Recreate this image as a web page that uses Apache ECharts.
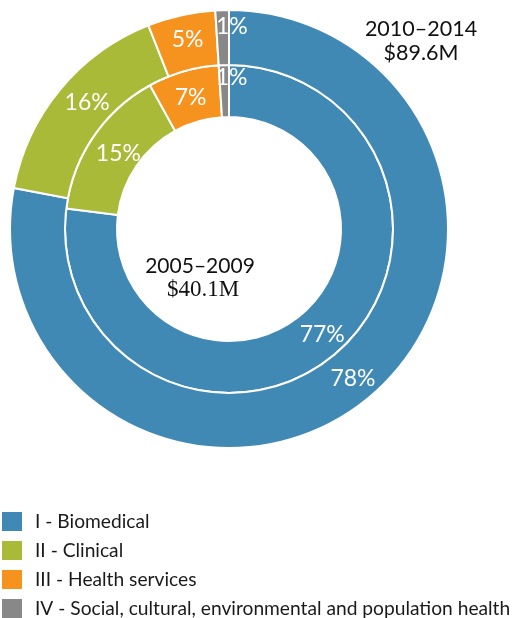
<!DOCTYPE html>
<html>
<head>
<meta charset="utf-8">
<script src="https://cdn.jsdelivr.net/npm/echarts@6/dist/echarts.min.js"></script>
<style>
  html, body { margin: 0; padding: 0; background: #fff; }
  #chart { width: 512px; height: 618px; }
</style>
</head>
<body>
<div id="chart"></div>
<script>
const categories = ['I - Biomedical', 'II - Clinical', 'III - Health services', 'IV - Social, cultural, environmental and population health'];
const colors = ['#4189b5', '#a9ba38', '#f6921e', '#888888'];
const inner2005 = [77, 15, 7, 1];
const outer2010 = [78, 16, 5, 1];
const periodInner = ['2005–2009', '$40.1M'];
const periodOuter = ['2010–2014', '$89.6M'];

const chart = echarts.init(document.getElementById('chart'), null, { renderer: 'canvas' });

// small label nudges (style only)
const innerOffsets = [[0, 0], [6, 4], [1, 4], [7, -10]];
const outerOffsets = [[0, 0], [8, -2], [1, 0], [9, -8]];

function mk(vals, offs) {
  return vals.map((v, i) => ({
    name: categories[i], value: v,
    itemStyle: { color: colors[i] },
    label: { offset: offs[i] }
  }));
}

const labelCfg = {
  show: true,
  position: 'inside',
  formatter: p => p.value + '%',
  color: '#ffffff',
  fontFamily: 'Lato',
  fontSize: 23
};

chart.setOption({
  animation: false,
  legend: {
    orient: 'vertical',
    left: 2,
    top: 512,
    height: 110,
    padding: 0,
    itemWidth: 20,
    itemHeight: 19,
    itemGap: 10,
    icon: 'rect',
    itemStyle: { borderWidth: 0 },
    textStyle: { fontFamily: 'Lato', fontSize: 19.2, color: '#1a1a1a', padding: [0, 0, 0, 8] },
    data: categories
  },
  graphic: [
    { type: 'text', x: 421, y: 29, style: { text: periodOuter[0], font: '21.5px Lato', fill: '#111', align: 'center', verticalAlign: 'middle' } },
    { type: 'text', x: 421, y: 53, style: { text: periodOuter[1], font: '21.5px Lato', fill: '#111', align: 'center', verticalAlign: 'middle' } },
    { type: 'text', x: 200, y: 266, style: { text: periodInner[0], font: '21px Lato', fill: '#111', align: 'center', verticalAlign: 'middle' } },
    { type: 'text', x: 203, y: 290, style: { text: periodInner[1], font: '23px "Liberation Serif"', fill: '#111', align: 'center', verticalAlign: 'middle' } }
  ],
  series: [
    {
      type: 'pie',
      name: '2005–2009',
      center: [229, 229],
      radius: [112, 164],
      startAngle: 90,
      clockwise: true,
      avoidLabelOverlap: false,
      itemStyle: { borderColor: '#fff', borderWidth: 2 },
      label: labelCfg,
      labelLine: { show: false },
      emphasis: { disabled: true },
      data: mk(inner2005, innerOffsets)
    },
    {
      type: 'pie',
      name: '2010–2014',
      center: [229, 229],
      radius: [164, 219],
      startAngle: 90,
      clockwise: true,
      avoidLabelOverlap: false,
      itemStyle: { borderColor: '#fff', borderWidth: 2 },
      label: labelCfg,
      labelLine: { show: false },
      emphasis: { disabled: true },
      data: mk(outer2010, outerOffsets)
    }
  ]
});
</script>
</body>
</html>
